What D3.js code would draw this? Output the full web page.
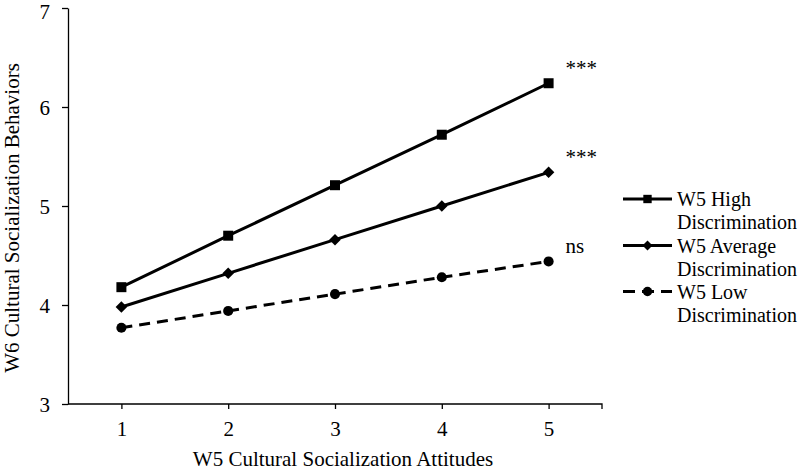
<!DOCTYPE html>
<html>
<head>
<meta charset="utf-8">
<script src="https://cdn.jsdelivr.net/npm/d3@7"></script>
<style>
  html, body { margin: 0; padding: 0; background: #fff; }
  svg text { font-family: "Liberation Serif", "DejaVu Serif", "Times New Roman", serif; fill: #000; }
</style>
</head>
<body>
<svg id="chart" width="800" height="471"></svg>
<script>
const xValues = [1, 2, 3, 4, 5];
const highDisc = [4.18, 4.70, 5.21, 5.72, 6.24];
const avgDisc  = [3.98, 4.32, 4.66, 5.00, 5.34];
const lowDisc  = [3.77, 3.94, 4.11, 4.28, 4.44];
const seriesNames = [["W5 High", "Discrimination"], ["W5 Average", "Discrimination"], ["W5 Low", "Discrimination"]];
const significance = ["***", "***", "ns"];
const yTicks = [3, 4, 5, 6, 7];
const xTitle = "W5 Cultural Socialization Attitudes";
const yTitle = "W6 Cultural Socialization Behaviors";

const svg = d3.select("#chart");
const x = d3.scaleLinear().domain([0.5, 5.5]).range([68, 602]);
const y = d3.scaleLinear().domain([3, 7]).range([404, 8]);

// axes
const xAxis = svg.append("g").attr("transform", "translate(0,404)")
  .call(d3.axisBottom(x).tickValues(xValues).tickFormat(d3.format("d")).tickSize(5).tickSizeOuter(5).tickPadding(12));
const yAxis = svg.append("g").attr("transform", "translate(68,0)")
  .call(d3.axisLeft(y).tickValues(yTicks).tickFormat(d3.format("d")).tickSize(6).tickSizeOuter(0).tickPadding(12));
[xAxis, yAxis].forEach(a => {
  a.attr("font-family", null);
  a.selectAll("path, line").attr("stroke", "#000").attr("stroke-width", 1.3);
  a.selectAll("text").attr("font-size", 21);
});
xAxis.select("path.domain").attr("d", `M68,0H602V5`);
yAxis.selectAll("text").attr("dy", d => d === 7 ? "0.52em" : "0.38em");

svg.append("text").attr("x", 343).attr("y", 466).attr("text-anchor", "middle")
  .attr("font-size", 21).text(xTitle);
svg.append("text").attr("transform", "translate(19,218) rotate(-90)").attr("text-anchor", "middle")
  .attr("font-size", 21).text(yTitle);

const series = [
  { vals: highDisc, dash: null, marker: "square" },
  { vals: avgDisc, dash: null, marker: "diamond" },
  { vals: lowDisc, dash: "11,7", marker: "circle" }
];
const line = d3.line().x((d, i) => x(xValues[i])).y(d => y(d));
const symbols = {
  square: { gen: d3.symbol().type(d3.symbolSquare).size(100), rot: 0 },
  diamond: { gen: d3.symbol().type(d3.symbolSquare).size(66), rot: 45 },
  circle: { gen: d3.symbol().type(d3.symbolCircle).size(80), rot: 0 }
};

series.forEach((s, si) => {
  svg.append("path").attr("d", line(s.vals)).attr("fill", "none")
    .attr("stroke", "#000").attr("stroke-width", 3)
    .attr("stroke-dasharray", s.dash);
  const sym = symbols[s.marker];
  svg.append("g").selectAll("path").data(s.vals).join("path")
    .attr("d", sym.gen())
    .attr("transform", (d, i) => `translate(${x(xValues[i])},${y(d)}) rotate(${sym.rot})`)
    .attr("fill", "#000");
  const last = s.vals[s.vals.length - 1];
  svg.append("text").attr("x", x(5) + 17).attr("y", y(last) - 8)
    .attr("font-size", 21).text(significance[si]);
});

// legend
const legendY = [199, 245.5, 291.5];
const lsym = {
  square: { gen: d3.symbol().type(d3.symbolSquare).size(70), rot: 0 },
  diamond: { gen: d3.symbol().type(d3.symbolSquare).size(50), rot: 45 },
  circle: { gen: d3.symbol().type(d3.symbolCircle).size(70), rot: 0 }
};
series.forEach((s, i) => {
  const g = svg.append("g").attr("transform", `translate(0,${legendY[i]})`);
  g.append("line").attr("x1", 623).attr("x2", 672).attr("y1", 0).attr("y2", 0)
    .attr("stroke", "#000").attr("stroke-width", 3)
    .attr("stroke-dasharray", s.dash ? "12,7" : null);
  const sym = lsym[s.marker];
  g.append("path").attr("d", sym.gen()).attr("transform", `translate(647.5,0) rotate(${sym.rot})`).attr("fill", "#000");
  const t = g.append("text").attr("x", 677).attr("y", 7).attr("font-size", 20);
  t.append("tspan").attr("x", 677).attr("dy", 0).text(seriesNames[i][0]);
  t.append("tspan").attr("x", 677).attr("dy", 23).text(seriesNames[i][1]);
});
</script>
</body>
</html>
